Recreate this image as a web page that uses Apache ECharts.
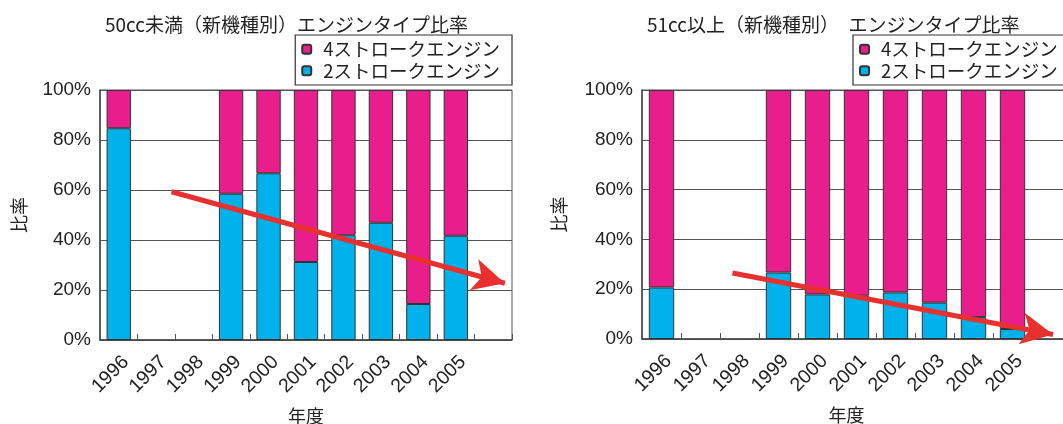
<!DOCTYPE html>
<html>
<head>
<meta charset="utf-8">
<script src="https://cdn.jsdelivr.net/npm/echarts@6/dist/echarts.min.js"></script>
<style>
  html, body { margin: 0; padding: 0; background: #fff; }
  #chart { width: 1063px; height: 424px; }
</style>
</head>
<body>
<div id="chart"></div>
<script>
// Model years (last slot is an empty spacer column)
const categories = ['1996', '1997', '1998', '1999', '2000', '2001', '2002', '2003', '2004', '2005', ''];

// Under 50cc: share of new models by engine type (%)
const twoStrokeUnder50  = [84.7, null, null, 58.5, 66.7, 31.2, 41.9, 46.9, 14.4, 41.7, null];
const fourStrokeUnder50 = [15.3, null, null, 41.5, 33.3, 68.8, 58.1, 53.1, 85.6, 58.3, null];

// 51cc and over: share of new models by engine type (%)
const twoStrokeOver51  = [20.7, null, null, 26.7, 17.9, 17.4, 18.7, 14.6, 8.8, 4.0, null];
const fourStrokeOver51 = [79.3, null, null, 73.3, 82.1, 82.6, 81.3, 85.4, 91.2, 96.0, null];

// Trend arrows: [column position (0..11), percent]
const trendUnder50 = [[1.91, 59.3], [10.81, 22.7]];
const trendOver51  = [[2.32, 26.5], [10.54, 1.8]];

const yTicks = { min: 0, max: 100, interval: 20 };

const titles = ['50cc未満（新機種別）エンジンタイプ比率', '51cc以上（新機種別）　エンジンタイプ比率'];
const name4 = '4ストロークエンジン';
const name2 = '2ストロークエンジン';

const PINK = '#e91e8c';
const BLUE = '#00b1eb';
const RED = '#e8302e';
const INK = '#222';
const GRID = '#555';
const JP = '"Noto Sans CJK JP", "Noto Sans", sans-serif';
const NUM = '"Liberation Sans", Arial, sans-serif';

function catAxis(gridIndex, namePad) {
  return {
    type: 'category',
    gridIndex,
    data: categories,
    boundaryGap: true,
    axisLine: { lineStyle: { color: '#444', width: 1.5 } },
    axisTick: { show: true, inside: true, length: 6, interval: 0, lineStyle: { color: '#555' } },
    axisLabel: {
      interval: 0, rotate: 45, margin: 12, color: INK,
      fontFamily: NUM, fontSize: 19.5, verticalAlign: 'top'
    },
    name: '年度',
    nameLocation: 'middle',
    nameGap: 67,
    nameTextStyle: { fontFamily: JP, fontSize: 18, color: INK, padding: namePad },
    splitLine: { show: false }
  };
}

function valueXAxis(gridIndex) {
  return { type: 'value', gridIndex, min: 0, max: 11, show: false };
}

function yAxis(gridIndex, gap) {
  return {
    type: 'value',
    gridIndex,
    min: yTicks.min, max: yTicks.max, interval: yTicks.interval,
    axisLine: { show: true, lineStyle: { color: '#444', width: 1.5 } },
    axisTick: { show: false },
    axisLabel: { formatter: '{value}%', color: INK, fontFamily: NUM, fontSize: 19, margin: 9 },
    splitLine: { show: true, lineStyle: { color: GRID, width: 1 } },
    name: '比率',
    nameLocation: 'middle',
    nameRotate: 90,
    nameGap: gap,
    nameTextStyle: { fontFamily: JP, fontSize: 18, color: INK }
  };
}

function barSeries(name, data, color, axisIndex) {
  return {
    type: 'bar',
    name,
    stack: 'share' + axisIndex,
    xAxisIndex: axisIndex,
    yAxisIndex: axisIndex,
    barWidth: '65%',
    data,
    itemStyle: { color, borderColor: '#333', borderWidth: 1 },
    emphasis: { disabled: true }
  };
}

function arrowSeries(points, axisIndex) {
  return {
    type: 'line',
    xAxisIndex: axisIndex,
    yAxisIndex: axisIndex - 2,
    data: points,
    showSymbol: false,
    symbol: 'none',
    lineStyle: { opacity: 0 },
    silent: true,
    z: 10,
    markLine: {
      silent: true,
      symbol: ['none', 'arrow'],
      symbolSize: [24, 32],
      label: { show: false },
      lineStyle: { color: RED, width: 5, type: 'solid', opacity: 1 },
      emphasis: { disabled: true },
      data: [[{ coord: points[0] }, { coord: points[1] }]]
    }
  };
}

function legend(pos) {
  return Object.assign({
    orient: 'vertical',
    top: 35,
    data: [name4, name2],
    itemWidth: 9,
    itemHeight: 9,
    itemGap: 3,
    padding: [5, 12, 5, 6],
    borderColor: '#333',
    borderWidth: 1.2,
    selectedMode: false,
    textStyle: { fontFamily: JP, fontSize: 18.5, color: INK, padding: [0, 0, 0, 7] }
  }, pos);
}

const chart = echarts.init(document.getElementById('chart'), null, { renderer: 'canvas' });

chart.setOption({
  animation: false,
  backgroundColor: '#fff',
  title: [
    { text: titles[0], left: 100, top: 10, textStyle: { fontFamily: JP, fontSize: 19, fontWeight: 'normal', color: INK } },
    { text: titles[1], left: 642, top: 10, textStyle: { fontFamily: JP, fontSize: 19, fontWeight: 'normal', color: INK } }
  ],
  legend: [
    legend({ right: 551 }),
    legend({ left: 853 })
  ],
  grid: [
    { left: 100, top: 90, width: 412, height: 250, show: true, borderColor: GRID, borderWidth: 1, outerBoundsMode: 'none', containLabel: false },
    { left: 642, top: 90, width: 429, height: 249, show: true, borderColor: GRID, borderWidth: 1, outerBoundsMode: 'none', containLabel: false }
  ],
  xAxis: [catAxis(0, [0, 0, 0, 0]), catAxis(1, [0, 20, 0, 0]), valueXAxis(0), valueXAxis(1)],
  yAxis: [yAxis(0, 72), yAxis(1, 74)],
  series: [
    barSeries(name2, twoStrokeUnder50, BLUE, 0),
    barSeries(name4, fourStrokeUnder50, PINK, 0),
    barSeries(name2, twoStrokeOver51, BLUE, 1),
    barSeries(name4, fourStrokeOver51, PINK, 1),
    arrowSeries(trendUnder50, 2),
    arrowSeries(trendOver51, 3)
  ]
});
</script>
</body>
</html>
